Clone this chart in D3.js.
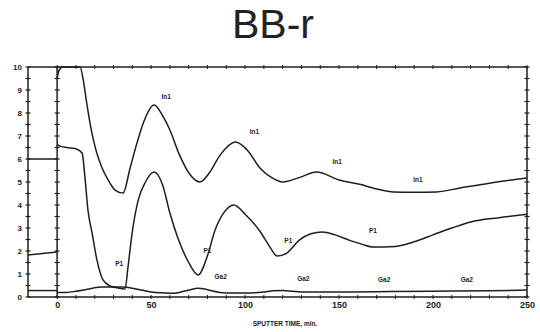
<!DOCTYPE html>
<html><head><meta charset="utf-8">
<script src="https://cdn.jsdelivr.net/npm/d3@7"></script>
<style>body{margin:0;background:#fff}svg{display:block}</style>
</head><body><svg id="c" width="540" height="332"></svg>
<script>
// ---- data ----
const title = "BB-r";
const xTickValues = [0, 50, 100, 150, 200, 250];
const yTickValues = [0, 1, 2, 3, 4, 5, 6, 7, 8, 9, 10];
const xTitle = "SPUTTER TIME, min.";

// In1 (upper curve)
const in1PreT = [-15.5, 0];
const in1PreV = [6.0, 6.0];
const in1T = [0, 1, 3, 8, 12.2, 13.9, 15.75, 17.5, 19.3, 21.1, 23.7, 27.1, 30.8, 35.1, 38.8, 42.5, 46, 51.6, 56, 60, 65, 70, 76, 81, 86.7, 95, 101, 108, 114, 120, 129, 138, 150, 161, 170, 179, 190, 202, 215, 230, 250];
const in1V = [9.5, 9.85, 10, 10, 10, 9.43, 8.43, 7.56, 6.83, 6.26, 5.65, 5.09, 4.65, 4.52, 5.6, 6.7, 7.6, 8.35, 7.9, 7.26, 6.2, 5.4, 5.0, 5.4, 6.17, 6.74, 6.4, 5.6, 5.2, 5.0, 5.2, 5.43, 5.09, 4.9, 4.7, 4.57, 4.55, 4.57, 4.75, 4.95, 5.17];

// P1 (middle curve)
const p1PreT = [-15.5, 0];
const p1PreV = [1.83, 1.96];
const p1T = [0, 2, 5, 10, 13.3, 14.8, 16.4, 18.6, 21.2, 24.4, 28.2, 32, 36.1, 37.7, 39.9, 43.1, 47, 51.6, 56, 60, 65, 70, 75, 80, 84, 89, 94, 100, 108, 113, 117, 122, 129, 135, 141, 148, 156, 162, 168, 180, 190, 200, 210, 220, 235, 250];
const p1V = [6.62, 6.55, 6.5, 6.45, 6.26, 5.2, 3.78, 2.78, 1.6, 0.74, 0.48, 0.4, 0.35, 1.3, 2.78, 4.2, 5.0, 5.43, 4.9, 3.65, 2.4, 1.5, 0.96, 1.8, 2.9, 3.7, 4.0, 3.6, 2.85, 2.2, 1.78, 1.9, 2.48, 2.75, 2.83, 2.7, 2.45, 2.3, 2.17, 2.2, 2.4, 2.7, 3.0, 3.26, 3.45, 3.6];

// Ga2 (bottom curve)
const ga2PreT = [-15.5, 0];
const ga2PreV = [0.28, 0.28];
const ga2T = [0, 5, 10, 15, 23, 30, 35, 40, 45, 50, 55, 60, 65, 70, 75, 80, 85, 90, 100, 110, 115, 120, 125, 130, 140, 150, 170, 200, 230, 250];
const ga2V = [0.2, 0.2, 0.25, 0.32, 0.43, 0.44, 0.43, 0.38, 0.3, 0.22, 0.18, 0.16, 0.2, 0.3, 0.38, 0.32, 0.22, 0.17, 0.17, 0.22, 0.27, 0.28, 0.25, 0.22, 0.22, 0.22, 0.23, 0.25, 0.27, 0.3];

// curve annotations
const labelText = ["In1", "In1", "In1", "In1", "P1", "P1", "P1", "P1", "Ga2", "Ga2", "Ga2", "Ga2"];
const labelT = [58, 105, 149, 192, 33, 80, 123, 168, 87, 131, 174, 218];
const labelV = [8.6, 7.1, 5.8, 5.0, 1.35, 1.9, 2.35, 2.8, 0.77, 0.68, 0.65, 0.65];

// ---- drawing ----
const svg = d3.select("#c");
const ink = "#1e1e1e";
const x = d3.scaleLinear().domain([-15.5, 250]).range([28, 527]);
const y = d3.scaleLinear().domain([0, 10]).range([297, 67]);

svg.append("text").attr("x", 273).attr("y", 38).attr("text-anchor", "middle")
  .attr("font-family", "Liberation Sans, Arial, sans-serif").attr("font-size", 41)
  .attr("fill", "#222").text(title);

const g = svg.append("g");
// frame
const frame = [
  [[-15.5, 0], [-15.5, 10]], [[-15.5, 10], [250, 10]], [[250, 10], [250, 0]],
  [[-15.5, 0], [250, 0]], [[0, 0], [0, 10]]
];
frame.forEach(s => g.append("line")
  .attr("x1", x(s[0][0])).attr("y1", y(s[0][1])).attr("x2", x(s[1][0])).attr("y2", y(s[1][1]))
  .attr("stroke", ink).attr("stroke-width", 1.5));

// vertical-axis tick crosses
const yMinor = d3.range(0, 10.01, 0.5);
[-15.5, 0, 250].forEach(xv => {
  yMinor.forEach(v => g.append("line")
    .attr("x1", x(xv) - 2.5).attr("x2", x(xv) + 2.5).attr("y1", y(v)).attr("y2", y(v))
    .attr("stroke", ink).attr("stroke-width", 1.2));
});
// horizontal-axis ticks
const xMinor = d3.range(0, 250.1, 10);
[0, 10].forEach(yv => {
  xMinor.forEach(t => g.append("line")
    .attr("x1", x(t)).attr("x2", x(t)).attr("y1", y(yv) - 2).attr("y2", y(yv) + 2)
    .attr("stroke", ink).attr("stroke-width", 1));
});

// axes labels via d3 axes
const yAxis = d3.axisLeft(y).tickValues(yTickValues).tickSize(0).tickPadding(0).tickFormat(d3.format("d"));
const ya = svg.append("g").attr("transform", "translate(22,0)").call(yAxis);
ya.select(".domain").remove();
ya.selectAll("text").attr("font-family", "Liberation Sans, Arial, sans-serif")
  .attr("font-size", 8).attr("font-weight", "bold").attr("fill", ink);

const xAxis = d3.axisBottom(x).tickValues(xTickValues).tickSize(0).tickPadding(0).tickFormat(d3.format("d"));
const xa = svg.append("g").attr("transform", "translate(0,302)").call(xAxis);
xa.select(".domain").remove();
xa.selectAll("text").attr("font-family", "Liberation Sans, Arial, sans-serif")
  .attr("font-size", 9).attr("font-weight", "bold").attr("fill", ink);

svg.append("text").attr("x", 285).attr("y", 326).attr("text-anchor", "middle")
  .attr("font-family", "Liberation Sans, Arial, sans-serif").attr("font-size", 6.5)
  .attr("font-weight", "bold").attr("fill", ink).text(xTitle);

// curves
const line = d3.line().x(d => x(d[0])).y(d => y(d[1])).curve(d3.curveMonotoneX);
const zip = (a, b) => a.map((v, i) => [v, b[i]]);
[[in1PreT, in1PreV], [in1T, in1V], [p1PreT, p1PreV], [p1T, p1V], [ga2PreT, ga2PreV], [ga2T, ga2V]]
  .forEach(([t, v]) => g.append("path").attr("d", line(zip(t, v)))
    .attr("fill", "none").attr("stroke", ink).attr("stroke-width", 1.5));

// annotations
labelText.forEach((s, i) => {
  g.append("text").attr("x", x(labelT[i])).attr("y", y(labelV[i]))
    .attr("text-anchor", "middle").attr("font-family", "Liberation Sans, Arial, sans-serif")
    .attr("font-size", 6.5).attr("font-weight", "bold").attr("fill", ink).text(s);
});
</script></body></html>
